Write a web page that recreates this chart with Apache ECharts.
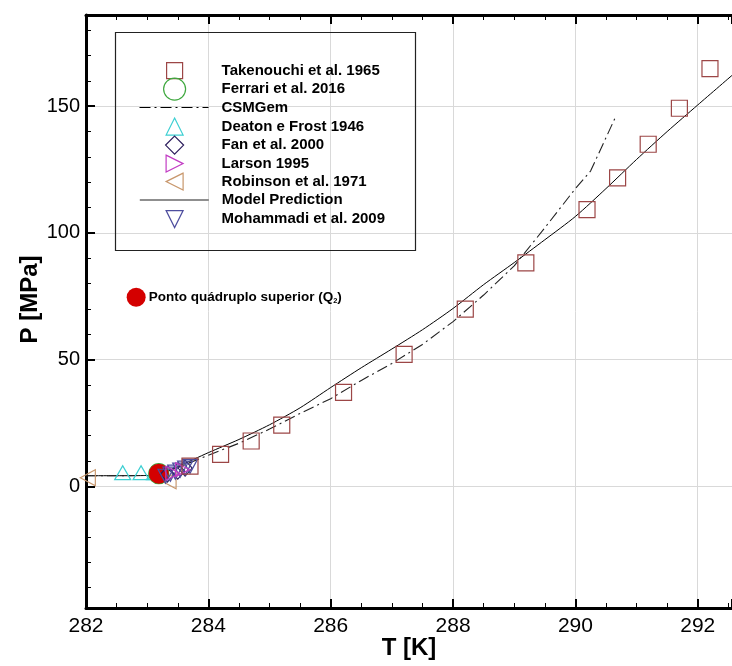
<!DOCTYPE html>
<html>
<head>
<meta charset="utf-8">
<script src="https://cdn.jsdelivr.net/npm/echarts@6/dist/echarts.min.js"></script>
<style>html,body{margin:0;padding:0;background:#fff}#c{width:732px;height:666px}</style>
</head>
<body>
<div id="c"></div>
<script>
// ---- data (T [K], P [MPa]) ----
const takenouchi = [[283.7,8.0],[284.2,12.6],[284.7,17.9],[285.2,24.2],[286.21,37.1],[287.2,52.1],[288.2,69.9],[289.19,88.2],[290.19,109.2],[290.69,121.7],[291.19,135.0],[291.7,149.2],[292.2,164.8]];
const ferrari = [[283.19,5.0]];
const csmgem = [[282,4.2],[282.5,4.2],[283,4.3],[283.2,4.6],[283.5,7.4],[284,12.3],[284.5,17.0],[285,22.6],[285.5,28.8],[286,34.6],[286.5,41.8],[287,48.5],[287.5,56],[288,65],[288.5,75.5],[289,87],[289.5,102],[290,117.5],[290.25,124.5],[290.67,146.5]];
const deaton = [[282.6,5.4],[282.9,5.4],[283.12,5.4]];
const fan = [[283.33,4.8],[283.5,6.0],[283.62,7.2]];
const larson = [[283.42,5.2],[283.58,6.6]];
const robinson = [[282.03,3.4],[283.35,2.2]];
const model = [[282,4.2],[282.5,4.2],[283,4.3],[283.2,4.7],[283.5,7.8],[284,13.3],[284.5,18.5],[285,24.3],[285.5,31],[286,39],[286.5,46.8],[287,54.2],[287.5,61.8],[288,70.2],[288.5,79.6],[289,88.3],[289.5,97.3],[290,106.5],[290.5,117.5],[291,129],[291.5,140],[292,150.5],[292.6,163]];
const mohammadi = [[283.3,4.0],[283.38,4.8],[283.46,5.6],[283.54,6.4],[283.62,7.2],[283.7,7.9]];
const quadPoint = [[283.19,5.0]];
const quadMarker = [[282.82,74.6]];
const xTicks = {min:282, max:292.56, interval:2};
const yRange = {min:-48, max:186};
const names = ['Takenouchi et al. 1965','Ferrari et al. 2016','CSMGem','Deaton e Frost 1946','Fan et al. 2000','Larson 1995','Robinson et al. 1971','Model Prediction','Mohammadi et al. 2009'];

const FONT = 'Liberation Sans, Arial, Helvetica, sans-serif';
const C = {tak:'#9c4646', fer:'#3fa83f', dea:'#3ccfd2', fan:'#2b1c5c', lar:'#c23dc4', rob:'#c8976c', moh:'#4d4d9e', red:'#d40000'};
const ICON = {
  right:'path://M0,0L10,5L0,10Z',
  left:'path://M10,0L0,5L10,10Z',
  down:'path://M0,0L10,0L5,10Z'
};

function hollow(color){ return {color:'rgba(255,255,255,0)', borderColor:color, borderWidth:1.2, opacity:1}; }

// legend rows
const rowY = [70, 88.5, 107, 126, 144.5, 163, 181, 199.5, 218.5];
const TEXT_X = 221;
function symLegend(i, icon, color, size){
  const left = 174 - size/2;
  return {
    data:[{name:names[i], icon:icon}], orient:'vertical', left:left, top:rowY[i]-size/2, padding:0,
    itemWidth:size, itemHeight:size, selectedMode:false,
    itemStyle:{color:'rgba(255,255,255,0)', borderColor:color, borderWidth:1.2},
    textStyle:{fontFamily:FONT, fontSize:15, fontWeight:'bold', color:'#000', padding:[0,0,0,TEXT_X-(left+size+5)]}
  };
}
function lineLegend(i, lineStyle){
  const left = 139, w = 69, h = 14;
  return {
    data:[names[i]], orient:'vertical', left:left, top:rowY[i]-h/2, padding:0,
    itemWidth:w, itemHeight:h, selectedMode:false,
    itemStyle:{color:'rgba(0,0,0,0)', borderWidth:0, borderColor:'rgba(0,0,0,0)'},
    lineStyle:lineStyle,
    textStyle:{fontFamily:FONT, fontSize:15, fontWeight:'bold', color:'#000', padding:[0,0,0,TEXT_X-(left+w+5)]}
  };
}

const axisCommonX = {
  type:'value', min:xTicks.min, max:xTicks.max, interval:xTicks.interval,
  axisLine:{show:true, onZero:false, lineStyle:{color:'#000', width:3}},
  axisTick:{show:true, inside:true, length:9, lineStyle:{color:'#000', width:2}},
  minorTick:{show:true, splitNumber:4, length:5, lineStyle:{color:'#000', width:1}}
};

const option = {
  animation:false,
  backgroundColor:'#fff',
  grid:{left:86, top:15, right:0, bottom:58, containLabel:false},
  xAxis:[
    Object.assign({}, axisCommonX, {
      position:'bottom',
      name:'T [K]', nameLocation:'middle', nameGap:28, nameMoveOverlap:false,
      nameTextStyle:{fontFamily:FONT, fontSize:24, fontWeight:'bold', color:'#000'},
      axisLabel:{show:true, fontFamily:FONT, fontSize:21, color:'#000', margin:8, showMaxLabel:false},
      splitLine:{show:true, lineStyle:{color:'#d9d9d9', width:1}}
    }),
    Object.assign({}, axisCommonX, {
      position:'top', axisLabel:{show:false}, splitLine:{show:false}
    })
  ],
  yAxis:[{
    type:'value', min:yRange.min, max:yRange.max, splitNumber:5, minInterval:50, maxInterval:50,
    position:'left',
    name:'P [MPa]', nameLocation:'middle', nameGap:44, nameMoveOverlap:false,
    nameTextStyle:{fontFamily:FONT, fontSize:24, fontWeight:'bold', color:'#000', padding:[0,0,0,24]},
    axisLine:{show:true, onZero:false, lineStyle:{color:'#000', width:3}},
    axisTick:{show:true, inside:true, length:9, lineStyle:{color:'#000', width:2}},
    minorTick:{show:true, splitNumber:5, length:5, lineStyle:{color:'#000', width:1}},
    axisLabel:{fontFamily:FONT, fontSize:20, color:'#000', margin:6, showMinLabel:false, showMaxLabel:false},
    splitLine:{show:true, lineStyle:{color:'#d9d9d9', width:1}}
  }],
  legend:[
    symLegend(0,'rect',C.tak,16),
    symLegend(1,'circle',C.fer,22),
    lineLegend(2,{color:'#000', width:1, type:[11,4,2,4]}),
    symLegend(3,'triangle',C.dea,17),
    symLegend(4,'diamond',C.fan,18),
    symLegend(5,ICON.right,C.lar,17),
    symLegend(6,ICON.left,C.rob,17),
    lineLegend(7,{color:'#6a6a6a', width:1.6, type:'solid'}),
    symLegend(8,ICON.down,C.moh,17)
  ],
  graphic:[{
    type:'rect', z:100, silent:true,
    shape:{x:115.5, y:32.5, width:300, height:218},
    style:{fill:'none', stroke:'#222', lineWidth:1.2}
  }],
  series:[
    {name:names[7], type:'line', data:model, smooth:0.25, symbol:'none', showSymbol:false,
      lineStyle:{color:'#000', width:1}, z:2},
    {name:names[2], type:'line', data:csmgem, smooth:false, symbol:'none', showSymbol:false,
      lineStyle:{color:'#222', width:1.1, type:[11,4,2,4]}, z:2},
    {name:names[3], type:'scatter', data:deaton, symbol:'triangle', symbolSize:[16,14], itemStyle:hollow(C.dea), z:3},
    {name:names[6], type:'scatter', data:robinson, symbol:'triangle', symbolSize:[16,15], symbolRotate:90, clip:false, itemStyle:hollow(C.rob), z:3},
    {name:names[1], type:'scatter', data:ferrari, symbol:'circle', symbolSize:20, itemStyle:hollow(C.fer), z:3},
    {name:'Q2', type:'scatter', data:quadPoint, symbol:'circle', symbolSize:20, itemStyle:{color:C.red, opacity:1}, z:4},
    {name:names[4], type:'scatter', data:fan, symbol:'diamond', symbolSize:[14,16], itemStyle:hollow(C.fan), z:5},
    {name:names[8], type:'scatter', data:mohammadi, symbol:'triangle', symbolSize:[15,14], symbolRotate:180, itemStyle:hollow(C.moh), z:5},
    {name:names[5], type:'scatter', data:larson, symbol:'triangle', symbolSize:[14,14], symbolRotate:-90, itemStyle:hollow(C.lar), z:5},
    {name:names[0], type:'scatter', data:takenouchi, symbol:'rect', symbolSize:16, itemStyle:hollow(C.tak), z:5},
    {name:'Q2 marker', type:'scatter', data:quadMarker, symbol:'circle', symbolSize:19, itemStyle:{color:C.red, opacity:1}, z:6,
      label:{show:true, position:'right', distance:3,
        formatter:'{a|Ponto quádruplo superior (Q}{s|2}{a|)}',
        rich:{
          a:{fontFamily:FONT, fontSize:13.5, fontWeight:'bold', color:'#000', lineHeight:15},
          s:{fontFamily:FONT, fontSize:7.5, fontWeight:'bold', color:'#000', lineHeight:8, verticalAlign:'bottom'}
        }}}
  ]
};
const chart = echarts.init(document.getElementById('c'), null, {renderer:'canvas'});
chart.setOption(option);
</script>
</body>
</html>
